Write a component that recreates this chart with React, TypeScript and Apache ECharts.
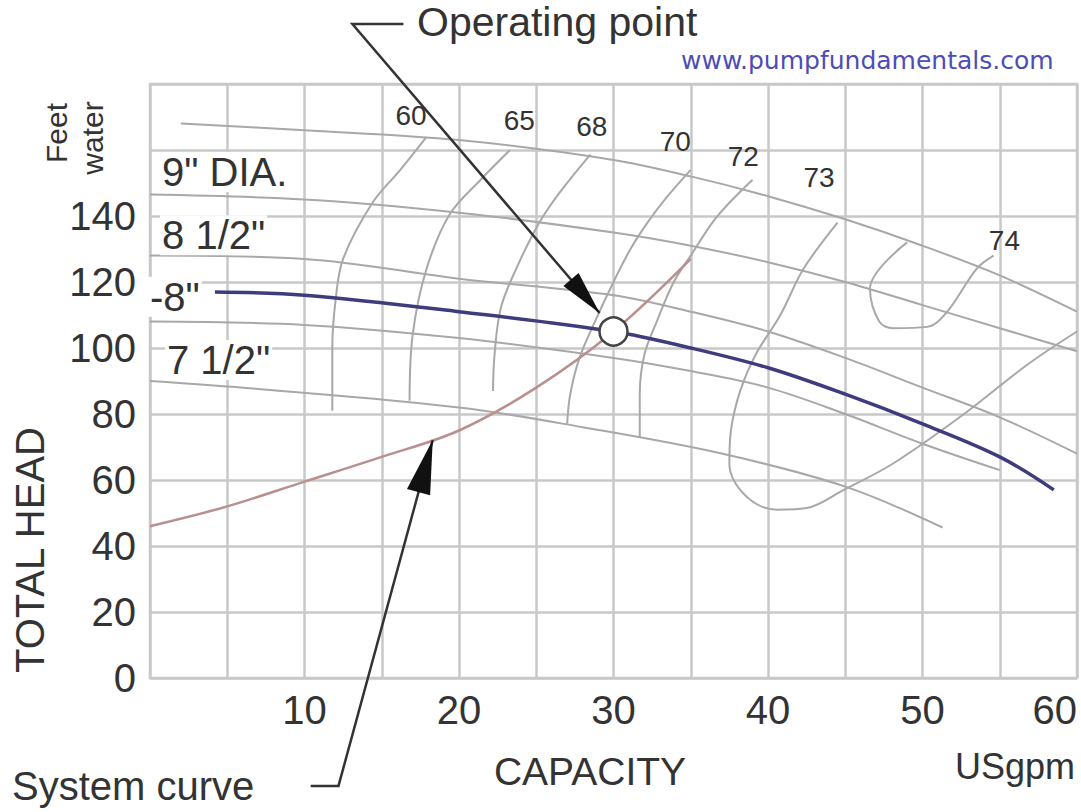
import React, { useEffect, useRef } from "react";
import * as echarts from "echarts";

// ---- axis ticks ----
const xLabelValues = [10, 20, 30, 40, 50, 60];
const yLabelValues = [0, 20, 40, 60, 80, 100, 120, 140];

// ---- pump head curves [capacity USgpm, head ft] ----
const curveTop = [[2, 168], [10, 166], [20, 163], [30, 157], [35, 152], [40, 146], [45, 139], [50, 131], [55, 122], [60, 111]];
const curve9in = [[0, 146.5], [10, 145], [20, 141], [30, 135], [35, 131], [40, 126], [45, 120], [50, 113], [55, 106], [60, 99]];
const curve85in = [[0, 128], [10, 127], [20, 121], [30, 116], [35, 111], [40, 105], [45, 97], [50, 88], [55, 79], [60, 68]];
const curve8in = [[4.2, 117], [10, 116], [20, 111], [30, 105], [35, 100], [40, 94], [45, 86], [50, 77], [55, 67], [58.5, 57]];
const curve75in = [[0, 108], [10, 107], [20, 103], [30, 97], [35, 93], [40, 88], [45, 80], [50, 71], [55, 63]];
const curve7in = [[0, 90], [7, 87.6], [20, 82], [28, 76], [37, 68], [45, 58], [51.3, 45.6]];

// ---- iso-efficiency curves ----
const eff60 = [[17.9, 164], [16.2, 154], [14.4, 144], [12.5, 127], [12, 114], [11.8, 100], [11.8, 81]];
const eff65 = [[23.3, 160], [21.4, 151], [19.4, 140.5], [17.9, 124], [17, 104], [16.8, 84]];
const eff68 = [[28.5, 158.6], [26.5, 147], [25.2, 138], [23.7, 124], [22.7, 112], [22.3, 98], [22.2, 87]];
const eff70 = [[35, 154], [33.5, 146], [32.2, 138], [31.1, 130], [30, 120], [28.8, 108], [27.8, 97], [27.2, 86], [27, 77]];
const eff72 = [[39, 151], [37.5, 144], [36.4, 138], [35, 128], [33.9, 120], [32.8, 108], [32, 98], [31.7, 86], [31.7, 73]];
const eff73 = [[44.5, 138], [42.3, 124], [40.8, 110], [39.2, 98], [38.2, 87], [37.6, 75], [37.5, 65], [38.6, 55], [40.6, 51], [42.5, 51.5], [44.9, 57], [48.1, 65], [52.4, 79], [56.8, 95], [60, 105]];
const eff74 = [[54.6, 128], [53.5, 124], [51.6, 111], [50.3, 106.4], [48.1, 106], [47.2, 108], [46.6, 118], [49, 132]];

// ---- system curve & operating point ----
const systemCurve = [[0, 46], [5, 52], [10, 59.5], [15, 67], [20, 75], [25, 88], [30, 105], [35, 127]];
const operatingPoint = [30, 105];

// ---- annotation anchors (data coords) ----
const effLabelTexts = ["60", "65", "68", "70", "72", "73", "74"];
const effLabelQ = [16.9, 23.9, 28.6, 34.0, 38.4, 43.3, 55.3];
const effLabelH = [170.6, 168.8, 167, 162.7, 157.9, 151.8, 132.7];

const diaLabelTexts = ['9" DIA.', '8 1/2"', '-8"', '7 1/2"'];
const diaLabelQ = [0.65, 0.65, -0.13, 0.97];
const diaLabelH = [153.3, 134.2, 115.5, 96.4];

const opArrowPath = [[16.4, 198.2], [13.1, 198.2], [29.1, 110.6]];
const sysArrowPath = [[10.4, -32.7], [12.2, -32.7], [18.3, 72.1]];

const FONT = "'Liberation Sans', Arial, sans-serif";
const GRID_COLOR = "#c8c8c8";
const CURVE_GRAY = "#a8a8a8";

function lineSeries(data: number[][], color: string, width: number, z = 3) {
  return {
    type: "line",
    data,
    showSymbol: false,
    symbol: "none",
    smooth: 0.35,
    lineStyle: { color, width },
    z,
    silent: true,
  };
}

function arrowHead(tip: number[], from: number[], len: number, half: number) {
  const dx = tip[0] - from[0];
  const dy = tip[1] - from[1];
  const L = Math.hypot(dx, dy) || 1;
  const ux = dx / L;
  const uy = dy / L;
  const bx = tip[0] - ux * len;
  const by = tip[1] - uy * len;
  return [
    [tip[0], tip[1]],
    [bx - uy * half, by + ux * half],
    [bx + uy * half, by - ux * half],
  ];
}

export default function App() {
  const ref = useRef<HTMLDivElement>(null);

  useEffect(() => {
    if (!ref.current) return;
    const chart = echarts.init(ref.current, null, { renderer: "svg" });

    const option: any = {
      animation: false,
      backgroundColor: "#ffffff",
      grid: {
        left: 150,
        right: 4,
        top: 84,
        bottom: 134,
        show: true,
        borderColor: GRID_COLOR,
        borderWidth: 2.5,
        backgroundColor: "transparent",
      },
      xAxis: {
        type: "value",
        min: 0,
        max: 60,
        interval: 5,
        axisLine: { show: false },
        axisTick: { show: false },
        splitLine: { show: true, lineStyle: { color: GRID_COLOR, width: 2.5 } },
        axisLabel: {
          formatter: (v: number) => (xLabelValues.includes(v) ? String(v) : ""),
          fontSize: 40,
          fontFamily: FONT,
          color: "#333",
          margin: 12,
          alignMaxLabel: "right",
        },
      },
      yAxis: {
        type: "value",
        min: 0,
        max: 180,
        interval: 20,
        axisLine: { show: false },
        axisTick: { show: false },
        splitLine: { show: true, lineStyle: { color: GRID_COLOR, width: 2.5 } },
        axisLabel: {
          formatter: (v: number) => (yLabelValues.includes(v) ? String(v) : ""),
          fontSize: 40,
          fontFamily: FONT,
          color: "#333",
          margin: 14,
        },
      },
      series: [
        lineSeries(curveTop, CURVE_GRAY, 2),
        lineSeries(curve9in, CURVE_GRAY, 2),
        lineSeries(curve85in, CURVE_GRAY, 2),
        lineSeries(curve75in, CURVE_GRAY, 2),
        lineSeries(curve7in, CURVE_GRAY, 2),
        lineSeries(eff60, CURVE_GRAY, 2),
        lineSeries(eff65, CURVE_GRAY, 2),
        lineSeries(eff68, CURVE_GRAY, 2),
        lineSeries(eff70, CURVE_GRAY, 2),
        lineSeries(eff72, CURVE_GRAY, 2),
        lineSeries(eff73, CURVE_GRAY, 2),
        lineSeries(eff74, CURVE_GRAY, 2),
        lineSeries(systemCurve, "#b98f8f", 2.5, 4),
        lineSeries(curve8in, "#3d3d7e", 3.5, 5),
        {
          type: "scatter",
          data: [operatingPoint],
          symbol: "circle",
          symbolSize: 28,
          itemStyle: { color: "#ffffff", borderColor: "#444", borderWidth: 2.5, opacity: 1 },
          z: 8,
          silent: true,
        },
      ],
    };

    chart.setOption(option);

    const P = (q: number, h: number) =>
      chart.convertToPixel({ seriesIndex: 0 }, [q, h]) as number[];

    const graphics: any[] = [];

    // diameter labels
    diaLabelTexts.forEach((t, i) => {
      const p = P(diaLabelQ[i], diaLabelH[i]);
      graphics.push({
        type: "text",
        x: p[0],
        y: p[1],
        z: 20,
        style: {
          text: t,
          fontSize: 40,
          fontFamily: FONT,
          fill: "#333",
          textAlign: "left",
          textVerticalAlign: "middle",
          backgroundColor: "#ffffff",
          padding: [0, 2],
        },
      });
    });

    // efficiency labels
    effLabelTexts.forEach((t, i) => {
      const p = P(effLabelQ[i], effLabelH[i]);
      graphics.push({
        type: "text",
        x: p[0],
        y: p[1],
        z: 20,
        style: {
          text: t,
          fontSize: 28,
          fontFamily: FONT,
          fill: "#333",
          textAlign: "center",
          textVerticalAlign: "middle",
        },
      });
    });

    // operating point arrow
    const opPts = opArrowPath.map(([q, h]) => P(q, h));
    graphics.push({
      type: "polyline",
      z: 30,
      shape: { points: opPts },
      style: { stroke: "#333", lineWidth: 2.5, fill: null },
    });
    graphics.push({
      type: "polygon",
      z: 31,
      shape: { points: arrowHead(opPts[2], opPts[1], 44, 10) },
      style: { fill: "#111" },
    });

    // system curve arrow
    const sysPts = sysArrowPath.map(([q, h]) => P(q, h));
    graphics.push({
      type: "polyline",
      z: 30,
      shape: { points: sysPts },
      style: { stroke: "#333", lineWidth: 2.5, fill: null },
    });
    graphics.push({
      type: "polygon",
      z: 31,
      shape: { points: arrowHead(sysPts[2], sysPts[1], 54, 12) },
      style: { fill: "#111" },
    });

    // texts outside plot
    const txt = (text: string, x: number, y: number, size: number, extra: any = {}) => ({
      type: "text",
      x,
      y,
      z: 40,
      rotation: extra.rotation || 0,
      style: {
        text,
        fontSize: size,
        fontFamily: extra.fontFamily || FONT,
        fill: extra.fill || "#333",
        textAlign: extra.align || "left",
        textVerticalAlign: "middle",
      },
    });

    graphics.push(txt("Operating point", 417, 22, 41));
    graphics.push(txt("www.pumpfundamentals.com", 681, 60, 25, { fontFamily: "'DejaVu Sans', sans-serif", fill: "#4d4db5" }));
    graphics.push(txt("System curve", 12, 786, 40));
    graphics.push(txt("CAPACITY", 590, 771, 39, { align: "center" }));
    graphics.push(txt("USgpm", 955, 766, 36));
    graphics.push(txt("TOTAL HEAD", 30, 550, 40, { align: "center", rotation: Math.PI / 2 }));
    graphics.push(txt("Feet", 56, 133, 30, { align: "center", rotation: Math.PI / 2 }));
    graphics.push(txt("water", 92, 138, 30, { align: "center", rotation: Math.PI / 2 }));

    chart.setOption({ graphic: graphics });

    return () => chart.dispose();
  }, []);

  return (
    <div
      ref={ref}
      style={{ position: "fixed", left: 0, top: 0, width: 1081, height: 812, background: "#fff" }}
    />
  );
}
